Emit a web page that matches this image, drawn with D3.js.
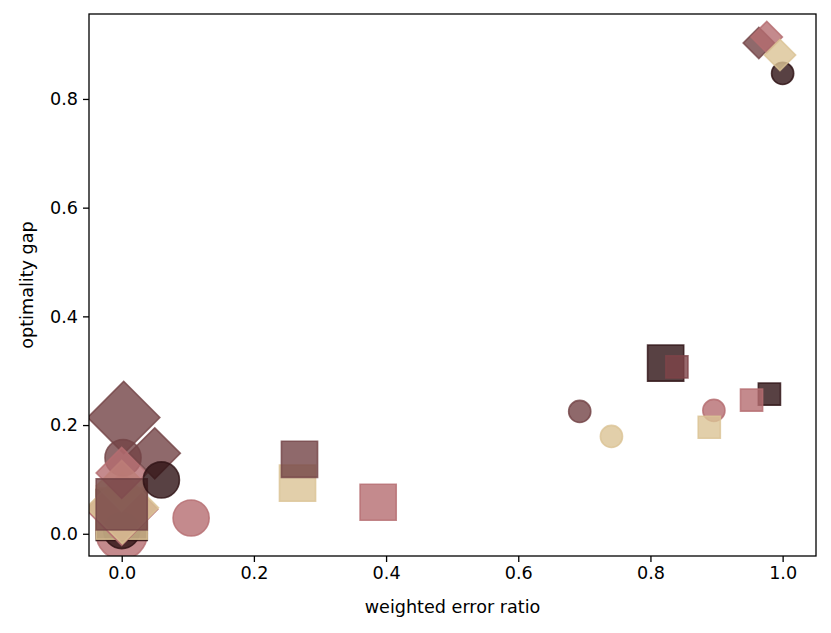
<!DOCTYPE html>
<html><head><meta charset="utf-8">
<script src="https://cdn.jsdelivr.net/npm/d3@7"></script>
<style>body{margin:0;background:#fff;}svg{display:block;}text{font-family:"DejaVu Sans",sans-serif;}</style>
</head><body><svg id="c" width="831" height="633"></svg>
<script>
// data (in draw order)
const seriesNames = ["dark", "mauve", "pink", "beige", "red"];
const seriesColors = ["#2e1214", "#734346", "#b56d70", "#dbc395", "#7e4448"];
const pointSeries = ["pink","dark","dark","beige","pink","beige","mauve","mauve","beige","pink","mauve","mauve","dark","pink","beige","mauve","pink","mauve","beige","dark","red","pink","beige","dark","pink","mauve","pink","dark","beige"];
const pointShape  = ["o","o","s","s","D","D","o","D","D","D","s","D","o","o","s","s","s","o","o","s","s","o","s","s","s","D","D","o","D"];
const pointSize   = [800,400,800,800,800,800,400,800,400,400,800,400,400,400,400,400,400,150,150,400,150,150,150,150,150,150,150,150,150];
const errorRatio  = [0.0,0.0,0.0,0.0,0.0,0.001,0.002,0.003,0.0,0.0,0.0,0.050,0.060,0.105,0.266,0.269,0.388,0.693,0.741,0.823,0.840,0.896,0.889,0.980,0.953,0.964,0.976,1.0,0.996];
const optGap      = [0.0,0.006,0.0345,0.037,0.045,0.048,0.140,0.214,0.088,0.112,0.054,0.148,0.099,0.029,0.093,0.137,0.058,0.225,0.179,0.314,0.307,0.227,0.196,0.257,0.246,0.903,0.914,0.847,0.881];
const xTicks = [0.0, 0.2, 0.4, 0.6, 0.8, 1.0];
const yTicks = [0.0, 0.2, 0.4, 0.6, 0.8];

const svg = d3.select("#c");
const L = 89, R = 816, T = 14, B = 556;
const FS = "17.6px";
const x = d3.scaleLinear().domain([-0.0495, 1.0505]).range([L, R]);
const y = d3.scaleLinear().domain([-0.0409, 0.9563]).range([B, T]);
const side = d3.scaleSqrt().domain([0, 800]).range([0, 51.1]);
const color = d3.scaleOrdinal().domain(seriesNames).range(seriesColors);

svg.append("defs").append("clipPath").attr("id","clip")
  .append("rect").attr("x", L).attr("y", T).attr("width", R-L).attr("height", B-T);

const pts = errorRatio.map((v,i)=>({x:v, y:optGap[i], s:pointSeries[i], m:pointShape[i], z:pointSize[i]}));
const g = svg.append("g").attr("clip-path","url(#clip)");
g.selectAll("path").data(pts).join("path")
  .attr("d", d => {
    const a = side(d.z);
    if (d.m === "o") return d3.symbol().type(d3.symbolCircle).size(Math.PI*a*a/4)();
    return d3.symbol().type(d3.symbolSquare).size(a*a)();
  })
  .attr("transform", d => `translate(${x(d.x)},${y(d.y)})` + (d.m === "D" ? " rotate(45)" : ""))
  .attr("fill", d => color(d.s)).attr("fill-opacity", 0.8)
  .attr("stroke", d => color(d.s)).attr("stroke-opacity", 0.8).attr("stroke-width", 1.6);

// axes
const xAxis = d3.axisBottom(x).tickValues(xTicks).tickFormat(d3.format(".1f")).tickSizeOuter(0).tickSize(6).tickPadding(5);
const yAxis = d3.axisLeft(y).tickValues(yTicks).tickFormat(d3.format(".1f")).tickSizeOuter(0).tickSize(6).tickPadding(5);
const gx = svg.append("g").attr("transform", `translate(0,${B})`).call(xAxis);
const gy = svg.append("g").attr("transform", `translate(${L},0)`).call(yAxis);
[gx, gy].forEach(a => {
  a.select(".domain").remove();
  a.selectAll("line").attr("stroke","#000").attr("stroke-width",1.3);
  a.selectAll("text").attr("font-size",FS).attr("fill","#000").attr("font-family","DejaVu Sans, sans-serif");
});
svg.append("rect").attr("x", L).attr("y", T).attr("width", R-L).attr("height", B-T)
  .attr("fill","none").attr("stroke","#000").attr("stroke-width",1.3);

svg.append("text").attr("x", (L+R)/2).attr("y", 613).attr("text-anchor","middle")
  .attr("font-size",FS).text("weighted error ratio");
svg.append("text").attr("transform", `translate(33,${(T+B)/2}) rotate(-90)`).attr("text-anchor","middle")
  .attr("font-size",FS).text("optimality gap");
</script></body></html>
